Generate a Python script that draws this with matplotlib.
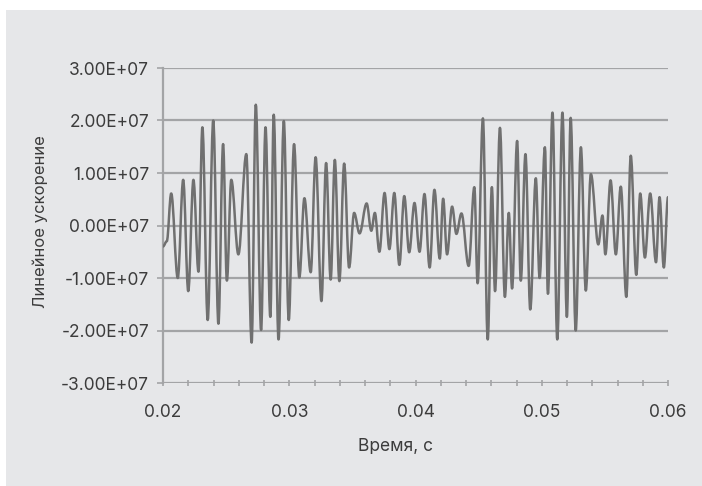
import numpy as np
import matplotlib
matplotlib.use("Agg")
import matplotlib.pyplot as plt
from matplotlib.path import Path
from matplotlib.patches import PathPatch, Rectangle
from matplotlib.ticker import FixedLocator, FixedFormatter, MultipleLocator

plt.rcParams['font.family'] = ['Inter', 'DejaVu Sans']

# Time (s) of successive turning points of the acceleration record
time_s = [
    0.02000, 0.02030, 0.02065, 0.02117, 0.02160, 0.02200, 0.02241, 0.02281,
    0.02312, 0.02354, 0.02398, 0.02439, 0.02476, 0.02506, 0.02541, 0.02597,
    0.02660, 0.02702, 0.02735, 0.02777, 0.02812, 0.02850, 0.02877, 0.02915,
    0.02957, 0.02996, 0.03038, 0.03080, 0.03120, 0.03170, 0.03209, 0.03255,
    0.03292, 0.03328, 0.03361, 0.03397, 0.03435, 0.03474, 0.03514, 0.03557,
    0.03613, 0.03650, 0.03678, 0.03714, 0.03755, 0.03793, 0.03832, 0.03872,
    0.03911, 0.03950, 0.03992, 0.04032, 0.04071, 0.04112, 0.04150, 0.04192,
    0.04219, 0.04250, 0.04290, 0.04324, 0.04364, 0.04421, 0.04466, 0.04492,
    0.04534, 0.04572, 0.04605, 0.04630, 0.04669, 0.04708, 0.04739, 0.04765,
    0.04805, 0.04834, 0.04871, 0.04909, 0.04953, 0.04983, 0.05025, 0.05049,
    0.05085, 0.05123, 0.05164, 0.05199, 0.05229, 0.05269, 0.05310, 0.05349,
    0.05389, 0.05448, 0.05481, 0.05504, 0.05545, 0.05587, 0.05626, 0.05670,
    0.05705, 0.05749, 0.05780, 0.05817, 0.05859, 0.05905, 0.05933, 0.05967,
    0.06000,
]

# Linear acceleration at those points, in units of 1e7
accel_e7 = [
    -0.40, -0.30, 0.61, -1.00, 0.87, -1.25, 0.87, -0.88,
    1.87, -1.80, 2.00, -1.87, 1.55, -1.05, 0.87, -0.55,
    1.36, -2.23, 2.30, -1.99, 1.87, -1.74, 2.11, -2.17,
    1.99, -1.80, 1.55, -0.99, 0.52, -0.89, 1.30, -1.44,
    1.19, -1.03, 1.25, -1.06, 1.18, -0.80, 0.24, -0.15,
    0.42, -0.10, 0.24, -0.50, 0.62, -0.45, 0.62, -0.75,
    0.56, -0.51, 0.43, -0.50, 0.60, -0.80, 0.68, -0.63,
    0.51, -0.55, 0.36, -0.16, 0.23, -0.77, 0.73, -1.10,
    2.04, -2.17, 0.73, -1.25, 1.86, -1.36, 0.24, -1.20,
    1.61, -1.05, 1.36, -1.60, 0.90, -1.00, 1.49, -1.30,
    2.15, -2.17, 2.15, -1.74, 2.05, -2.00, 1.49, -1.24,
    0.98, -0.36, 0.19, -0.55, 0.86, -0.55, 0.74, -1.36,
    1.33, -0.94, 0.61, -0.61, 0.61, -0.70, 0.54, -0.80,
    0.54,
]

y_ticks = [-3e7, -2e7, -1e7, 0, 1e7, 2e7, 3e7]
y_tick_labels = ["-3.00E+07", "-2.00E+07", "-1.00E+07", "0.00E+07",
                 "1.00E+07", "2.00E+07", "3.00E+07"]
x_ticks = [0.02, 0.03, 0.04, 0.05, 0.06]
x_tick_labels = ["0.02", "0.03", "0.04", "0.05", "0.06"]

BG = '#e6e7e9'
GRID = '#a3a4a6'
TEXT = '#3c3c3c'
LINE = '#707070'

fig = plt.figure(figsize=(7.02, 4.86), dpi=100, facecolor='white')
fig.patches.append(Rectangle((6 / 702, 0), 696 / 702, 476 / 486,
                             transform=fig.transFigure, facecolor=BG,
                             edgecolor='none', zorder=-10))

ax = fig.add_axes([163 / 702, 1 - 383 / 486, 505 / 702, 315 / 486])
ax.set_facecolor('none')
ax.set_xlim(0.02, 0.06)
ax.set_ylim(-3e7, 3e7)

# Smooth wave through turning points: cubic segments with flat tangents
t = np.asarray(time_s)
y = np.asarray(accel_e7) * 1e7
k = 0.36
verts = [(t[0], y[0])]
codes = [Path.MOVETO]
for i in range(len(t) - 1):
    dt = t[i + 1] - t[i]
    verts += [(t[i] + k * dt, y[i]), (t[i + 1] - k * dt, y[i + 1]),
              (t[i + 1], y[i + 1])]
    codes += [Path.CURVE4] * 3
ax.add_patch(PathPatch(Path(verts, codes), facecolor='none', edgecolor=LINE,
                       lw=1.8, joinstyle='round', capstyle='round', zorder=3))

# Horizontal gridlines
for v in y_ticks:
    ax.axhline(v, color=GRID, lw=1.6, zorder=1)

for s in ['top', 'right', 'bottom']:
    ax.spines[s].set_visible(False)
ax.spines['left'].set_color(GRID)
ax.spines['left'].set_linewidth(1.6)

ax.yaxis.set_major_locator(FixedLocator(y_ticks))
ax.yaxis.set_major_formatter(FixedFormatter(y_tick_labels))
ax.xaxis.set_major_locator(FixedLocator(x_ticks))
ax.xaxis.set_major_formatter(FixedFormatter(x_tick_labels))
ax.xaxis.set_minor_locator(MultipleLocator(0.002))

ax.tick_params(axis='y', length=4, width=1.2, color=GRID, pad=6,
               labelsize=12.5, labelcolor=TEXT)
ax.tick_params(axis='x', which='both', direction='inout', length=4, width=1.2,
               color=GRID, pad=13, labelsize=12.5, labelcolor=TEXT)

fig.text(40 / 702, 1 - 222 / 486, "Линейное ускорение", rotation=90,
         ha='center', va='center', fontsize=12, color=TEXT)
fig.text(396 / 702, 1 - 446 / 486, "Время, с", ha='center', va='center',
         fontsize=12.5, color=TEXT)

fig.savefig('out.png', dpi=100, facecolor='white')
